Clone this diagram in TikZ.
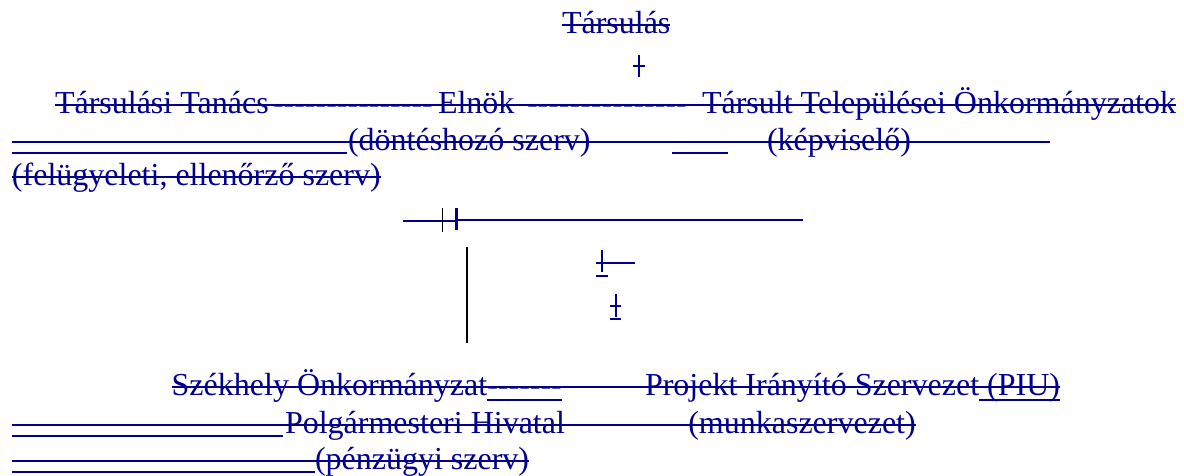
\documentclass[tikz,border=0pt]{standalone}
\usepackage{fontspec}
\setmainfont{Liberation Serif}
\definecolor{navy}{RGB}{0,0,140}
\newcommand\hy{-\kern0pt}
\begin{document}
\begin{tikzpicture}[x=1pt,y=-1pt,
  txt/.style={anchor=base west,inner sep=0pt,outer sep=0pt,text=navy,font=\fontsize{32}{36}\selectfont},
  bl/.style={draw=navy,line width=2pt},
  bk/.style={draw=black,line width=1.5pt}]
\useasboundingbox (0,0) rectangle (1184,475);
% row 1
\node[txt] (tars) at (562,33.3) {Társulás};
\draw[bl] ([yshift=8.3pt]tars.base west) -- ([yshift=8.3pt]tars.base east);
\draw[bl] (639,55) -- (639,77);
\draw[bl] (633,66) -- (645,66);
% row 2
\node[txt] (tt) at (55,113.3) {Társulási Tanács};
\node[txt] (d1) at (273,113.3) {\hy\hy\hy\hy\hy\hy\hy\hy\hy\hy\hy\hy\hy\hy\hy};
\node[txt] (eln) at (438,113.3) {Elnök};
\node[txt] (d2) at (527,113.3) {\hy\hy\hy\hy\hy\hy\hy\hy\hy\hy\hy\hy\hy\hy\hy};
\node[txt] (tto) at (702,113.3) {Társult Települései Önkormányzatok};
\draw[bl] ([yshift=8.3pt]tt.base west) -- ([yshift=8.3pt]tto.base east);
% row 3
\coordinate (r3a) at (11.7,141.7);
\coordinate (r3b) at (1050,141.7);
\node[txt] (dont) at (348,150.3) {(döntéshozó szerv)};
\node[txt] (kep) at (767,150.3) {(képviselő)};
\draw[bl] (r3a) -- (r3b);
\draw[bl] (11.7,152.7) -- (346.7,152.7);
\draw[bl] (672,153) -- (728,153);
% row 4
\node[txt] (fel) at (12,185.6) {(felügyeleti, ellenőrző szerv)};
\draw[bl] ([yshift=8.3pt]fel.base west) -- ([yshift=8.3pt]fel.base east);
% row 5
\draw[bl] (402.7,220.7) -- (456,220.7);
\draw[bl] (456,219.7) -- (803,219.7);
\draw[bk] (442.7,207.7) -- (442.7,232.3);
\draw[bl,line width=2.5pt] (456.7,208) -- (456.7,230);
\draw[bk] (467,246.7) -- (467,343.3);
\draw[bl] (601.7,250) -- (601.7,272.3);
\draw[bl] (596,263) -- (635,263);
\draw[bl] (596,275.7) -- (607.7,275.7);
\draw[bl] (615.7,294) -- (615.7,316.7);
\draw[bl] (610,305.7) -- (620.7,305.7);
\draw[bl] (610,319) -- (620.7,319);
% row 6
\node[txt] (szek) at (171.7,395.6) {Székhely Önkormányzat};
\node[txt] (d3) at (487.3,395.6) {\hy\hy\hy\hy\hy\hy\hy};
\node[txt] (piu) at (645,395.6) {Projekt Irányító Szervezet (PIU)};
\draw[bl] ([yshift=8.3pt]szek.base west) -- ([yshift=8.3pt]piu.base east);
\draw[bl] ([yshift=-4pt]d3.base west) -- ([yshift=-4pt]d3.base east);
\draw[bl] ([xshift=-80.5pt,yshift=-4.4pt]piu.base east) -- ([yshift=-4.4pt]piu.base east);
% row 7
\node[txt] (polg) at (285,433.3) {Polgármesteri Hivatal};
\node[txt] (munk) at (688.3,433.3) {(munkaszervezet)};
\coordinate (r7a) at (11.7,425);
\draw[bl] (r7a) -- ([yshift=8.3pt]munk.base east);
\draw[bl] (11.7,435.5) -- (283.3,435.5);
% row 8
\node[txt] (penz) at (315,469) {(pénzügyi szerv)};
\coordinate (r8a) at (11.7,460.7);
\draw[bl] (r8a) -- ([yshift=8.3pt]penz.base east);
\draw[bl] (11.7,471.7) -- (315,471.7);
\end{tikzpicture}
\end{document}
